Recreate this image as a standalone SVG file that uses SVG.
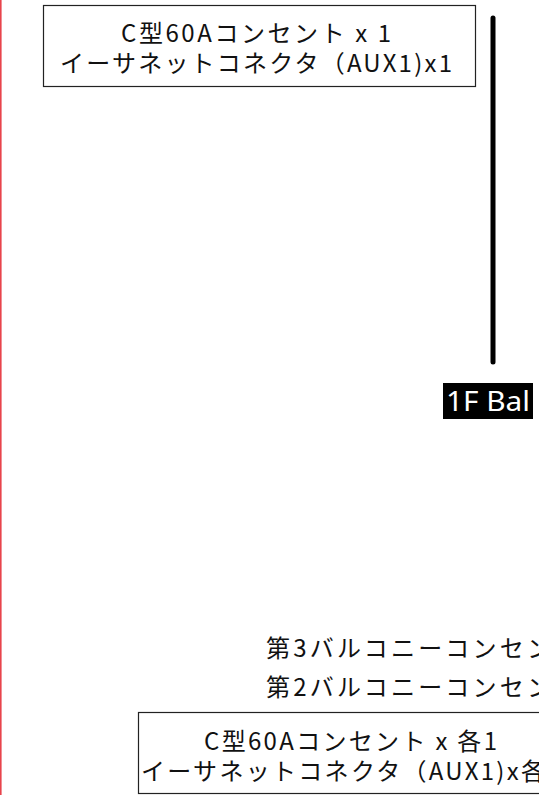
<svg xmlns="http://www.w3.org/2000/svg" width="539" height="795" viewBox="0 0 539 795">
<style>
.box{fill:#fff;stroke:#222;stroke-width:1.2}
.t{font-family:"Noto Sans CJK JP","Noto Sans",sans-serif;font-size:24px;fill:#111}
.lbl{font-family:"Noto Sans","Noto Sans CJK JP",sans-serif;font-size:27px;fill:#fff}
</style>
<rect x="0" y="0" width="539" height="795" fill="#fff"/>
<rect x="0" y="0" width="1.6" height="795" fill="#e8444c"/>
<g id="node-outlet-1F">
<rect class="box" x="43.5" y="5.5" width="432" height="81"/>
<text class="t" x="121" y="42" textLength="270" lengthAdjust="spacing">C型60Aコンセント x 1</text>
<text class="t" x="60" y="72" textLength="392" lengthAdjust="spacing">イーサネットコネクタ（AUX1)x1</text>
</g>
<g id="connectors">
<line x1="493" y1="18" x2="493" y2="362" stroke="#000" stroke-width="5" stroke-linecap="round"/>
</g>
<g id="node-1F-bal">
<rect x="443" y="383" width="90" height="36" fill="#000"/>
<text class="lbl" x="446" y="411" textLength="84" lengthAdjust="spacingAndGlyphs">1F Bal</text>
</g>
<g id="node-balcony-labels">
<text class="t" x="266" y="657" textLength="285" lengthAdjust="spacing">第3バルコニーコンセン</text>
<text class="t" x="266" y="696" textLength="285" lengthAdjust="spacing">第2バルコニーコンセン</text>
</g>
<g id="node-outlet-balcony">
<rect class="box" x="138.5" y="712.5" width="433" height="81"/>
<text class="t" x="204" y="750" textLength="293" lengthAdjust="spacing">C型60Aコンセント x 各1</text>
<text class="t" x="141" y="780" textLength="404" lengthAdjust="spacing">イーサネットコネクタ（AUX1)x各</text>
</g>
</svg>
